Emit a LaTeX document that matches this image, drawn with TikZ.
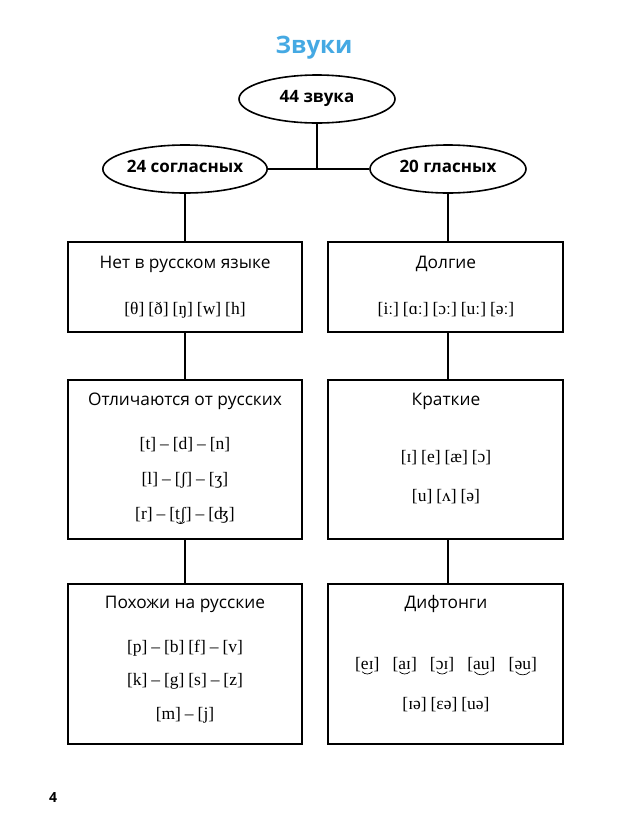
\documentclass[tikz,border=0pt]{standalone}
\usepackage{fontspec}
\setmainfont{Open Sans}
\newfontfamily\ipa[WordSpace=0.9]{Liberation Serif}
\usetikzlibrary{shapes.geometric}
\definecolor{titleblue}{HTML}{45A9E3}
\newcommand\utie[1]{\tikz[baseline=(ut.base)]{\node[inner sep=0pt,outer sep=0pt,text height=0.68em,text depth=0.18em] (ut) {#1};
  \draw[line width=0.7pt] ([xshift=1.2pt,yshift=-2.2pt]ut.base west) to[bend right=50] ([xshift=-1.2pt,yshift=-2.2pt]ut.base east);}}
\begin{document}
\begin{tikzpicture}[x=1pt,y=-1pt,
  oval/.style={ellipse,draw,line width=1.6pt,minimum width=156pt,minimum height=48pt,inner sep=0pt,
    font=\fontsize{17}{20}\selectfont\bfseries,text height=0.72em,text depth=0pt},
  box/.style={draw,line width=1.4pt,minimum width=234pt,inner sep=0pt},
  head/.style={font=\fontsize{17.3}{20}\selectfont,text height=0.72em,text depth=0pt,inner sep=0pt},
  ph/.style={font=\ipa\fontsize{17.5}{21}\selectfont,text height=0.68em,text depth=0.18em,inner sep=0pt},
  link/.style={line width=1.4pt}]
\useasboundingbox (0,0) rectangle (620,823);

\node[font=\fontsize{24}{29}\selectfont\bfseries,text=titleblue,text height=0.72em,text depth=0pt,inner sep=0pt] (title) at (314,50) {Звуки};

\node[oval] (all) at (317,99) {44 звука};
\node[oval,minimum width=157pt] (cons) at (185,169) {24 согласных};
\node[oval] (vow) at (448,169) {20 гласных};
\coordinate (junc) at (all.south |- cons.east);
\draw[link] (all.south) -- (junc);
\draw[link] (cons.east) -- (vow.west);

% boxes
\node[box,minimum height=90pt] (L1) at (185,287) {};
\node[box,minimum height=159pt] (L2) at (185,459.5) {};
\node[box,minimum height=160pt] (L3) at (185,664) {};
\node[box,minimum width=235pt,minimum height=90pt] (R1) at (445.5,287) {};
\node[box,minimum width=235pt,minimum height=159pt] (R2) at (445.5,459.5) {};
\node[box,minimum width=235pt,minimum height=160pt] (R3) at (445.5,664) {};

\draw[link] (cons.south) -- (L1.north);
\draw[link] (L1.south) -- (L2.north);
\draw[link] (L2.south) -- (L3.north);
\draw[link] (vow.south) -- (vow.south |- R1.north);
\draw[link] (vow.south |- R1.south) -- (vow.south |- R2.north);
\draw[link] (vow.south |- R2.south) -- (vow.south |- R3.north);

% left texts
\node[head] (l1h) at (185,265) {Нет в русском языке};
\node[ph] (l1a) at (185,312) {[θ] [ð] [ŋ] [w] [h]};

\node[head] (l2h) at (185,402) {Отличаются от русских};
\node[ph] (l2a) at (185,447) {[t] – [d] – [n]};
\node[ph] (l2b) at (185,482) {[l] – [ʃ] – [ʒ]};
\node[ph] (l2c) at (185,517) {[r] – [\utie{tʃ}] – [ʤ]};

\node[head] (l3h) at (185,605) {Похожи на русские};
\node[ph] (l3a) at (185,650) {[p] – [b] [f] – [v]};
\node[ph] (l3b) at (185,683) {[k] – [g] [s] – [z]};
\node[ph] (l3c) at (185,717) {[m] – [j]};

% right texts
\node[head] (r1h) at (446,265) {Долгие};
\node[ph] (r1a) at (446,312) {[iː] [ɑː] [ɔː] [uː] [əː]};

\node[head] (r2h) at (446,402) {Краткие};
\node[ph] (r2a) at (446,460) {[ɪ] [e] [æ] [ɔ]};
\node[ph] (r2b) at (446,499) {[u] [ʌ] [ə]};

\node[head] (r3h) at (446,605) {Дифтонги};
\node[ph] (r3a) at (446,667) {[\utie{eɪ}]\hspace{0.75em}[\utie{aɪ}]\hspace{0.75em}[\utie{ɔɪ}]\hspace{0.75em}[\utie{au}]\hspace{0.75em}[\utie{əu}]};
\node[ph] (r3b) at (446,707) {[ɪə] [ɛə] [uə]};

\node[font=\fontsize{14}{16}\selectfont\bfseries,text height=0.72em,text depth=0pt,inner sep=0pt] (page) at (53,799) {4};
\end{tikzpicture}
\end{document}
